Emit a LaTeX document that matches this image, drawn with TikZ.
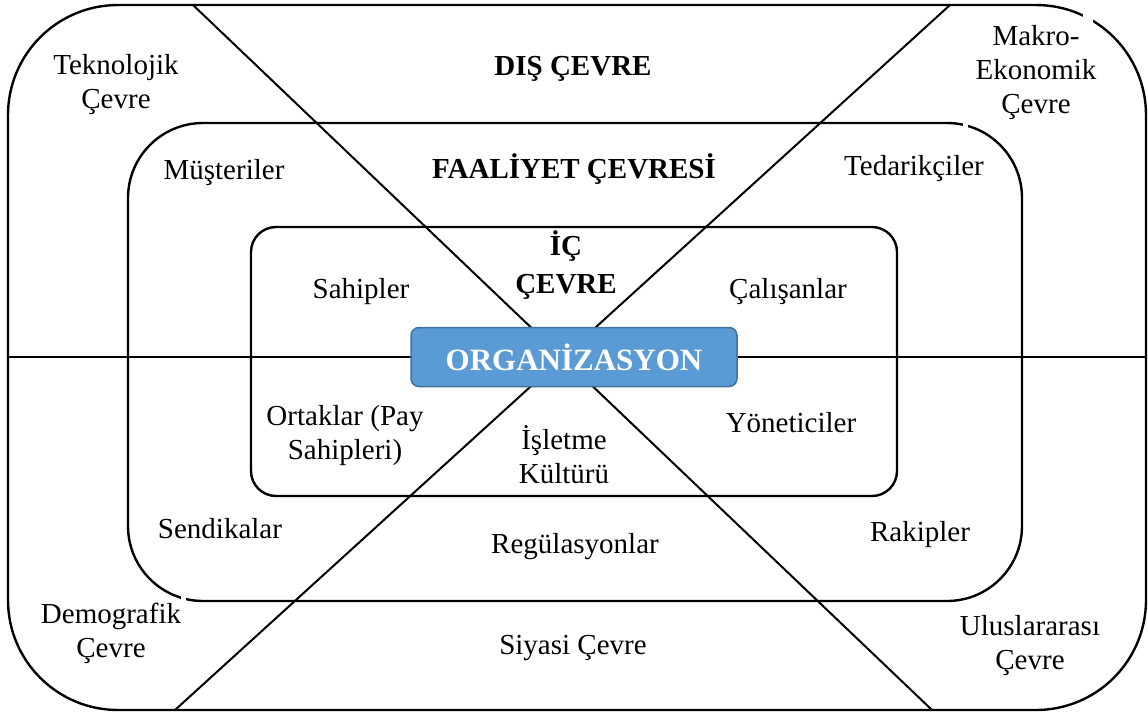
\documentclass[tikz,border=0pt]{standalone}
\usepackage{fontspec}
\setmainfont{Liberation Serif}
\definecolor{orgfill}{HTML}{5B9BD5}
\definecolor{orgedge}{HTML}{41719C}
\begin{document}
\begin{tikzpicture}[x=1pt,y=-1pt,
  frame/.style={draw=black,line width=2.4pt},
  divider/.style={draw=black,line width=2pt},
  lbl/.style={font=\fontsize{29}{34}\selectfont,align=center,inner sep=0pt},
  ttl/.style={font=\fontsize{29}{38}\selectfont\bfseries,align=center,inner sep=0pt},
  orgbox/.style={draw=orgedge,fill=orgfill,line width=1.5pt,rounded corners=8pt,
    minimum width=326pt,minimum height=59pt,inner sep=0pt,
    text=white,font=\fontsize{31}{36}\selectfont\bfseries},
]
\useasboundingbox (0,0) rectangle (1148,713);

% three nested environment frames
\draw[frame,rounded corners=110pt] (8,5) rectangle (1146,710);
\draw[frame,rounded corners=75pt] (128,123) rectangle (1022,601);
\draw[frame,rounded corners=25pt] (251,227) rectangle (897,496);

% end points of the dividing lines
\coordinate (hl) at (8,357);
\coordinate (hr) at (1146,357);
\coordinate (d1a) at (193,5);
\coordinate (d1b) at (932,710);
\coordinate (d2a) at (950,5);
\coordinate (d2b) at (175,710);

\draw[divider] (hl) -- (hr);
\draw[divider] (d1a) -- (d1b);
\draw[divider] (d2a) -- (d2b);

% small breaks in the frame outlines
\fill[white] (1083,14) rectangle (1093,26);
\fill[white] (963,118) rectangle (968,130);
\fill[white] (181,593) rectangle (186,602);

% central organisation box
\node[orgbox] (org) at (574,357) {ORGANİZASYON};

% outer environment
\node[lbl] (tek) at (116,85) {Teknolojik\\Çevre};
\node[ttl] (dis) at (573,69) {DIŞ ÇEVRE};
\node[lbl] (mak) at (1036,73) {Makro-\\Ekonomik\\Çevre};
\node[lbl] (dem) at (111,633) {Demografik\\Çevre};
\node[lbl] (siy) at (573,648) {Siyasi Çevre};
\node[lbl] (ulu) at (1030,646) {Uluslararası\\Çevre};

% task environment
\node[lbl] (mus) at (224,173) {Müşteriler};
\node[ttl] (faa) at (574,169) {FAALİYET ÇEVRESİ};
\node[lbl] (ted) at (914,169) {Tedarikçiler};
\node[lbl] (sen) at (220,529) {Sendikalar};
\node[lbl] (reg) at (575,547) {Regülasyonlar};
\node[lbl] (rak) at (920,535) {Rakipler};

% internal environment
\node[ttl] (ic) at (566,265) {İÇ\\ÇEVRE};
\node[lbl] (sah) at (361,292) {Sahipler};
\node[lbl] (cal) at (788,292) {Çalışanlar};
\node[lbl] (ort) at (345,436) {Ortaklar (Pay\\Sahipleri)};
\node[lbl] (isl) at (564,455) {İşletme\\Kültürü};
\node[lbl] (yon) at (791,423) {Yöneticiler};
\end{tikzpicture}
\end{document}
